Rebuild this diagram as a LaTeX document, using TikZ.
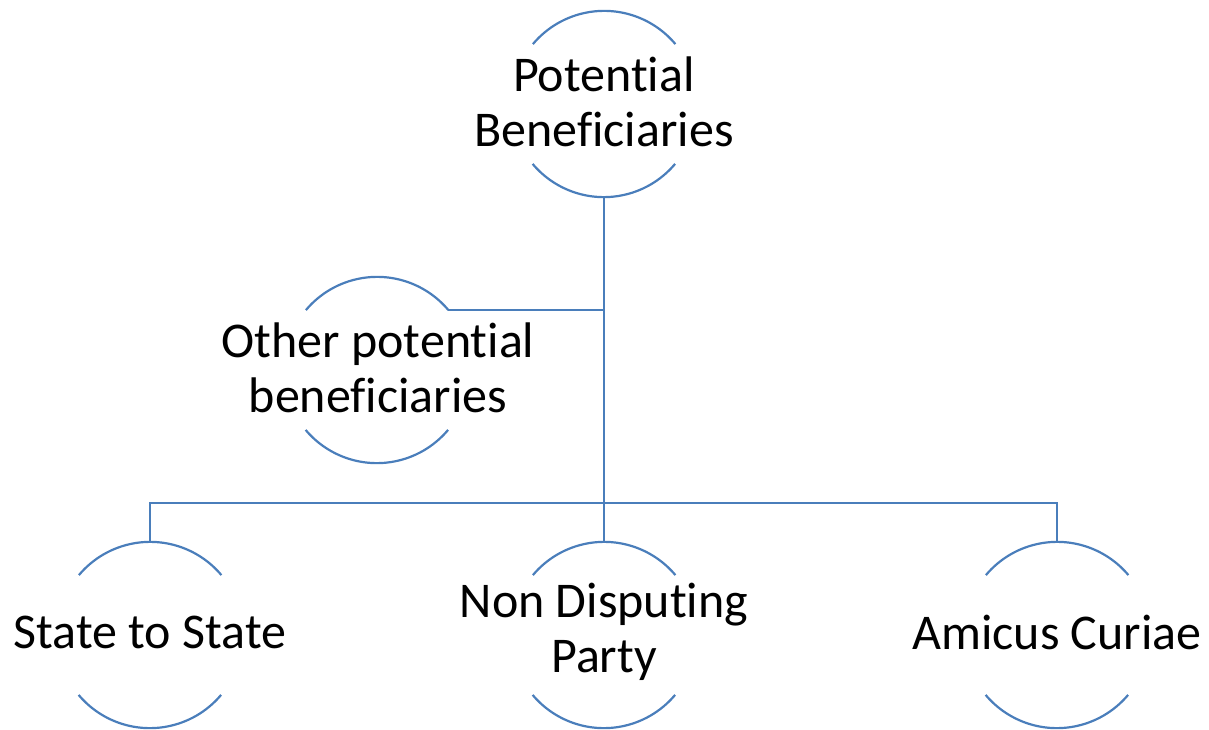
\documentclass[tikz,border=0pt]{standalone}
\usepackage{fontspec}
\setmainfont{Carlito}[Ligatures={NoCommon}]
\definecolor{lineblue}{RGB}{74,126,187}
\begin{document}
\begin{tikzpicture}[x=1pt, y=-1pt,
    bub/.style = {circle, minimum size = 186pt, inner sep = 0pt},
    lbl/.style = {align = center, inner sep = 0pt,
                  font = \fontsize{50}{55}\selectfont},
    rim/.style = {draw = lineblue, line width = 2.2pt},
    link/.style = {draw = lineblue, line width = 2.4pt}]

  \useasboundingbox (0, 0) rectangle (1209, 730);

  %%top
  \node[bub](top) at (604, 104) {};
  \node[lbl](topl) at (604, 102) {Potential\\Beneficiaries};

  %%side
  \node[bub](oth) at (377, 370) {};
  \node[lbl](othl) at (378, 368) {Other potential\\beneficiaries};

  %%bottom row
  \node[bub](sts) at (150, 635) {};
  \node[lbl](stsl) at (150, 632) {State to State};
  \node[bub](ndp) at (604, 635) {};
  \node[lbl](ndpl) at (604, 632) {Non Disputing\\Party};
  \node[bub](amc) at (1057, 635) {};
  \node[lbl](amcl) at (1057, 632) {Amicus Curiae};

  \coordinate(bar) at (604, 503);

  %%arcs
  \foreach \b in {top, oth, sts, ndp, amc}{
    \draw[rim](\b.40) arc[start angle = 40, end angle = 140, radius = 93pt];
    \draw[rim](\b.220) arc[start angle = 220, end angle = 320, radius = 93pt];
  }

  %%links
  \draw[link](top.south) to (ndp.north);
  \draw[link](oth.40) to (oth.40 -| top.south);
  \draw[link](sts.north) |- (bar) -| (amc.north);

\end{tikzpicture}
\end{document}
